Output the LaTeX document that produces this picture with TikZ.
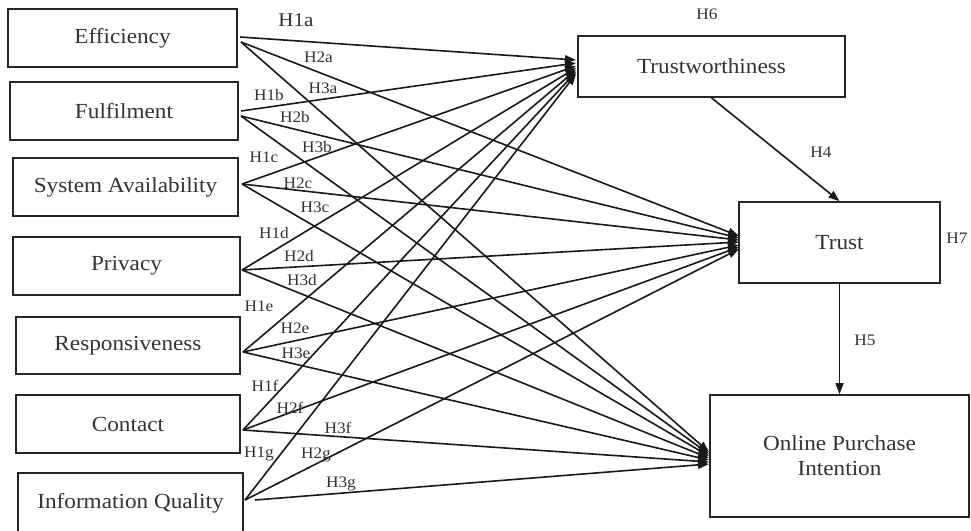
\documentclass[tikz,border=0pt]{standalone}
\usepackage{fontspec}
\setmainfont[FakeStretch=1.08]{Liberation Serif}
\usetikzlibrary{arrows.meta}
\begin{document}
\begin{tikzpicture}[x=1pt,y=-1pt,
  box/.style={draw=black!85, line width=1.7pt, rectangle, inner sep=0pt,
    font=\fontsize{21.5}{25}\selectfont, text=black!80, align=center},
  hl/.style={font=\fontsize{16}{18}\selectfont, text=black!80, inner sep=0pt},
  conn/.style={line width=1.6pt, draw=black!90, -{Triangle[length=11pt,width=8pt]}},
]
\fill[white] (0,0) rectangle (971,530);
\clip (0,0) rectangle (971,530);
% left boxes
\node[box, minimum width=229pt, minimum height=58pt] (eff) at (122.5,38) {Efficiency};
\node[box, minimum width=228pt, minimum height=58pt] (ful) at (124,111) {Fulfilment};
\node[box, minimum width=225pt, minimum height=58pt] (sa) at (125.5,187) {System Availability};
\node[box, minimum width=227pt, minimum height=58pt] (pr) at (126.5,266) {Privacy};
\node[box, minimum width=224pt, minimum height=57pt] (re) at (128,345.5) {Responsiveness};
\node[box, minimum width=224pt, minimum height=58pt] (co) at (128,424) {Contact};
\node[box, minimum width=225pt, minimum height=60pt] (iq) at (130.5,503) {Information Quality};
% right boxes
\node[box, minimum width=267pt, minimum height=61pt] (tw) at (711.5,66.5) {Trustworthiness};
\node[box, minimum width=201pt, minimum height=81pt] (tr) at (839.5,242.5) {Trust};
\node[box, minimum width=259pt, minimum height=122pt] (opi) at (839.5,456) {Online Purchase\\Intention};
% start points
\coordinate (effA) at (240,37);
\coordinate (effB) at (241,42);
\coordinate (fulA) at (241,111);
\coordinate (fulB) at (241,116);
\coordinate (saS) at (242,184);
\coordinate (prS) at (242,270);
\coordinate (reS) at (243,352);
\coordinate (coS) at (243,430);
\coordinate (iqA) at (245,500);
\coordinate (iqB) at (255,500);
% end points
\coordinate (tw1) at (576,60);
\coordinate (tw2) at (576,63);
\coordinate (tw3) at (576,66);
\coordinate (tw4) at (576,68);
\coordinate (tw5) at (576,70);
\coordinate (tw6) at (576,72);
\coordinate (tw7) at (576,74);
\coordinate (tr1) at (739,236);
\coordinate (tr2) at (739,238);
\coordinate (tr3) at (739,240);
\coordinate (tr4) at (739,242);
\coordinate (tr5) at (739,245);
\coordinate (tr6) at (739,247);
\coordinate (tr7) at (739,249);
\coordinate (op1) at (709,452);
\coordinate (op2) at (709,454);
\coordinate (op3) at (709,456);
\coordinate (op4) at (709,458);
\coordinate (op5) at (709,460);
\coordinate (op6) at (709,462);
\coordinate (op7) at (709,464);
% connectors
\draw[conn] (effA) -- (tw1);
\draw[conn] (effB) -- (tr1);
\draw[conn] (effB) -- (op1);
\draw[conn] (fulA) -- (tw2);
\draw[conn] (fulB) -- (tr2);
\draw[conn] (fulB) -- (op2);
\draw[conn] (saS) -- (tw3);
\draw[conn] (saS) -- (tr3);
\draw[conn] (saS) -- (op3);
\draw[conn] (prS) -- (tw4);
\draw[conn] (prS) -- (tr4);
\draw[conn] (prS) -- (op4);
\draw[conn] (reS) -- (tw5);
\draw[conn] (reS) -- (tr5);
\draw[conn] (reS) -- (op5);
\draw[conn] (coS) -- (tw6);
\draw[conn] (coS) -- (tr6);
\draw[conn] (coS) -- (op6);
\draw[conn] (iqA) -- (tw7);
\draw[conn] (iqA) -- (tr7);
\draw[conn] (iqB) -- (op7);
\draw[conn] (tw.south) -- (tr.north);
\draw[conn] (tr.south) -- (opi.north);
% labels
\node[hl, font=\fontsize{19.5}{22}\selectfont] (h1a) at (296,20) {H1a};
\node[hl] (h2a) at (318.5,57) {H2a};
\node[hl] (h3a) at (323,88) {H3a};
\node[hl] (h1b) at (269,95) {H1b};
\node[hl] (h2b) at (295,117) {H2b};
\node[hl] (h3b) at (317,147) {H3b};
\node[hl] (h1c) at (264,157) {H1c};
\node[hl] (h2c) at (298,183) {H2c};
\node[hl] (h3c) at (315,207) {H3c};
\node[hl] (h1d) at (274,233) {H1d};
\node[hl] (h2d) at (299,256) {H2d};
\node[hl] (h3d) at (302,280) {H3d};
\node[hl] (h1e) at (259,306) {H1e};
\node[hl] (h2e) at (295,328) {H2e};
\node[hl] (h3e) at (296,353) {H3e};
\node[hl] (h1f) at (265,386) {H1f};
\node[hl] (h2f) at (290,408) {H2f};
\node[hl] (h3f) at (338,428) {H3f};
\node[hl] (h1g) at (259,454) {H1g};
\node[hl] (h2g) at (316,455) {H2g};
\node[hl] (h3g) at (341,484) {H3g};
\node[hl] (h6) at (707,14) {H6};
\node[hl] (h4) at (821,152) {H4};
\node[hl] (h7) at (957,238) {H7};
\node[hl] (h5) at (865,340) {H5};
\end{tikzpicture}
\end{document}
